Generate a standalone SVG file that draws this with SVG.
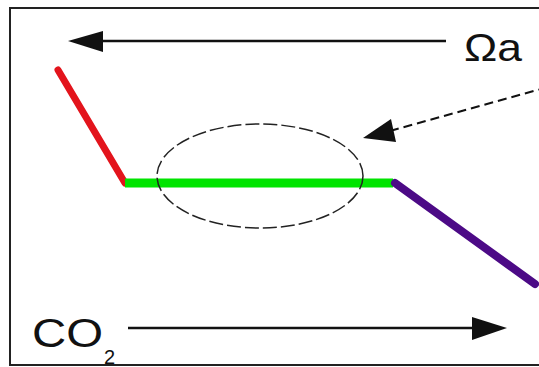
<svg xmlns="http://www.w3.org/2000/svg" width="539" height="367" viewBox="0 0 539 367">
<style>
.lbl{font-family:"Liberation Sans",Arial,sans-serif;fill:#111}
.ar{stroke:#111;stroke-width:2.5;fill:none}
.head{fill:#111}
</style>
<rect x="0" y="0" width="539" height="367" fill="#fff"/>
<rect x="10" y="8" width="540" height="357" fill="none" stroke="#222" stroke-width="2"/>
<g id="connectors">
<line class="ar" x1="100" y1="41" x2="446" y2="41"/>
<polygon class="head" points="68,41 103,31 103,52"/>
<line class="ar" x1="128" y1="328" x2="474" y2="328"/>
<polygon class="head" points="507,328 472,317 472,340"/>
<line x1="390" y1="131" x2="548" y2="87" stroke="#111" stroke-width="2" stroke-dasharray="9,5"/>
<polygon class="head" points="363,138 391,119 396,142"/>
</g>
<g id="red"><line x1="58" y1="70" x2="125" y2="183" stroke="#e3141c" stroke-width="7" stroke-linecap="round"/></g>
<g id="green"><line x1="125" y1="183" x2="393" y2="183" stroke="#00e400" stroke-width="9"/></g>
<g id="purple"><line x1="395" y1="183" x2="535" y2="284" stroke="#4c0a86" stroke-width="8" stroke-linecap="round"/></g>
<g id="ellipse"><ellipse cx="260" cy="176" rx="103" ry="52" fill="none" stroke="#222" stroke-width="1.5" stroke-dasharray="14,4"/></g>
<g id="omega"><text class="lbl" x="464" y="61" font-size="39" textLength="58" lengthAdjust="spacingAndGlyphs">Ωa</text></g>
<g id="co2"><text class="lbl" x="32" y="347" font-size="40" textLength="71" lengthAdjust="spacingAndGlyphs">CO</text><text class="lbl" x="104" y="364" font-size="20">2</text></g>
</svg>
